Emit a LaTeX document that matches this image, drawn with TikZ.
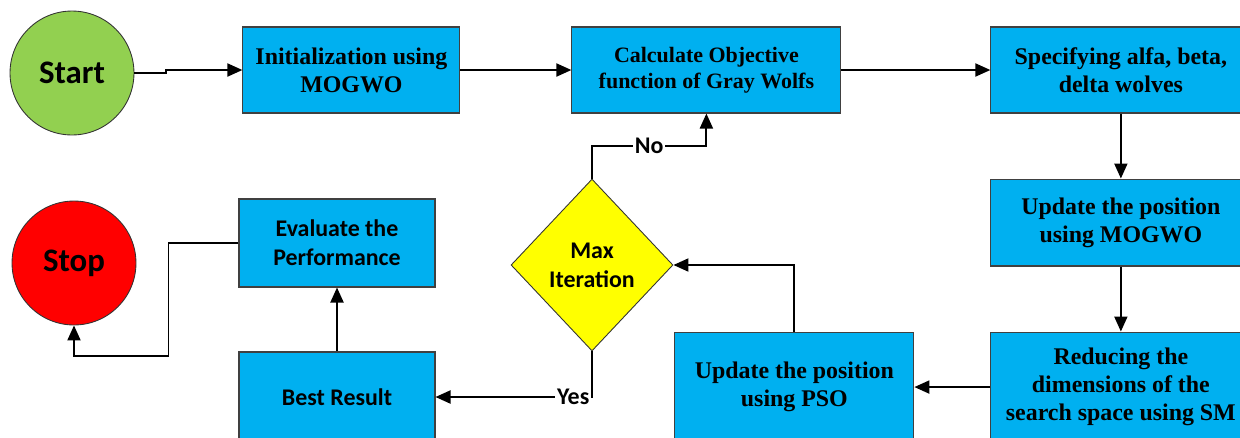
\documentclass[tikz,border=0pt]{standalone}
\usepackage{fontspec}
\setmainfont{Liberation Serif}
\newfontfamily\calib{Carlito}
\usetikzlibrary{shapes.geometric, arrows.meta, positioning}

\definecolor{boxcyan}{HTML}{00B0F0}
\definecolor{startgreen}{HTML}{92D050}
\definecolor{stopred}{HTML}{FF0000}
\definecolor{decyellow}{HTML}{FFFF00}

\begin{document}
\begin{tikzpicture}[x=0.02cm, y=-0.02cm,
    process/.style={rectangle, draw=black!75, fill=boxcyan, line width=0.6pt, align=center, inner sep=2pt, font=\bfseries\fontsize{13.6}{16}\selectfont},
    sprocess/.style={process, font=\calib\bfseries\fontsize{13.6}{16.4}\selectfont},
    terminal/.style={circle, draw=black!80, line width=0.5pt, minimum size=2.48cm, inner sep=0pt, font=\calib\bfseries\fontsize{18.7}{22}\selectfont},
    decision/.style={diamond, draw=black!80, fill=decyellow, line width=0.5pt, minimum width=3.24cm, minimum height=3.44cm, inner sep=0pt, align=center, font=\calib\bfseries\fontsize{13.6}{16.4}\selectfont},
    arrow/.style={draw, -{Triangle[length=3mm, width=2.6mm]}, line width=1.1pt},
    lbl/.style={fill=white, inner sep=1pt, font=\calib\bfseries\fontsize{13.6}{16}\selectfont}
]
\clip (0,0) rectangle (1240,437);

% Nodes
\node[terminal, fill=startgreen] (start) at (72,73) {Start};
\node[process, minimum width=4.34cm, minimum height=1.72cm, right=2.16cm of start, yshift=0.06cm] (init) {Initialization using\\MOGWO};
\node[process, minimum width=5.38cm, minimum height=1.72cm, right=2.22cm of init, font=\bfseries\fontsize{12.5}{15}\selectfont] (calc) {Calculate Objective\\function of Gray Wolfs};
\node[process, minimum width=5.2cm, minimum height=1.72cm, right=2.98cm of calc] (spec) {Specifying alfa, beta,\\delta wolves};
\node[process, minimum width=5.2cm, minimum height=1.74cm, below=1.3cm of spec] (updgwo) {Update the position\\using MOGWO};
\node[process, minimum width=5.2cm, minimum height=2.2cm, below=1.3cm of updgwo] (reduce) {Reducing the\\dimensions of the\\search space using SM};
\node[process, minimum width=4.78cm, minimum height=2.2cm, left=1.52cm of reduce] (updpso) {Update the position\\using PSO};
\node[decision] (maxit) at (592,265) {Max\\Iteration};
\node[sprocess, minimum width=3.92cm, minimum height=1.8cm] (best) at (337,397) {Best Result};
\node[sprocess, minimum width=3.92cm, minimum height=1.76cm, above=1.28cm of best] (eval) {Evaluate the\\Performance};
\node[terminal, fill=stopred] (stop) at (74,263) {Stop};

% Connections
\draw[arrow] (start.east) -- ++(32,0) |- (init.west);
\draw[arrow] (init) -- (calc);
\draw[arrow] (calc) -- (spec);
\draw[arrow] (spec) -- (updgwo);
\draw[arrow] (updgwo) -- (reduce);
\draw[arrow] (reduce) -- (updpso);
\draw[arrow] (updpso.north) |- (maxit.east);
\draw[arrow] (maxit.north) -- ++(0,-33) -| node[lbl, pos=0.25] {No} (calc.south);
\draw[arrow] (maxit.south) |- node[lbl, pos=0.5, anchor=east] {Yes} (best.east);
\draw[arrow] (best) -- (eval);
\draw[arrow] (eval.west) -- ++(-70,0) -- ++(0,113) -| (stop.south);

\end{tikzpicture}
\end{document}
